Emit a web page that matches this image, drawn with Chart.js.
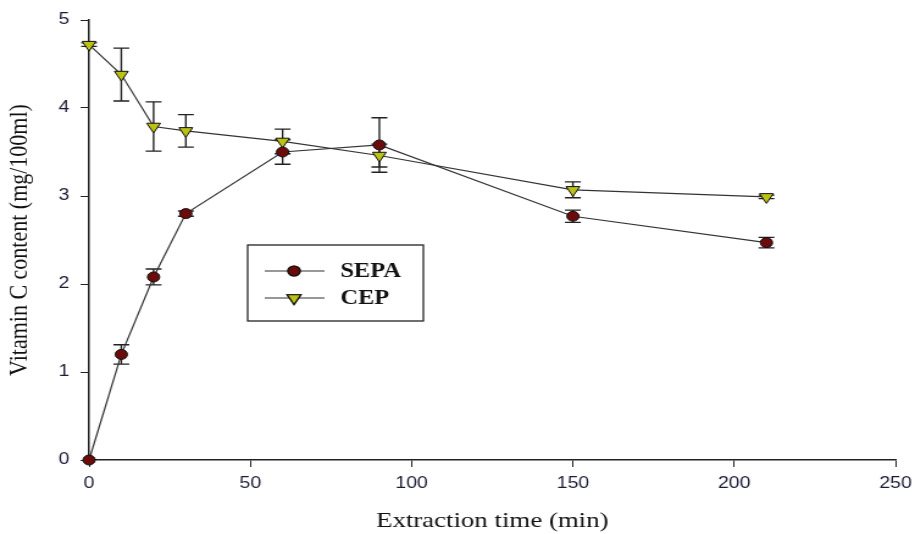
<!DOCTYPE html>
<html>
<head>
<meta charset="utf-8">
<script src="https://cdn.jsdelivr.net/npm/chart.js@4.4.1/dist/chart.umd.min.js"></script>
<style>
  html, body { margin: 0; padding: 0; background: #fff; }
  /* drawn a bit narrower then stretched, like the original figure */
  #vitC { display: block; width: 915px !important; height: 534px !important; }
</style>
</head>
<body>
<canvas id="vitC" width="750" height="534"></canvas>
<script>
const times = [0, 10, 20, 30, 60, 90, 150, 210];
const sepaVals = [0, 1.2, 2.08, 2.8, 3.5, 3.58, 2.77, 2.47];
const sepaErr = [0, 0.11, 0.09, 0.03, 0.14, 0.31, 0.07, 0.06];
const cepVals = [4.72, 4.38, 3.79, 3.74, 3.62, 3.46, 3.07, 2.99];
const cepErr = [0.02, 0.3, 0.28, 0.185, 0.14, 0.13, 0.09, 0.02];
const seriesNames = ["SEPA", "CEP"];

const sepaColor = "#6b0b0b";
const cepColor = "#bcc214";
const tickColor = "#1c1c36";

const sepaPoints = times.map((t, i) => ({ x: t, y: sepaVals[i] }));
const cepPoints = times.map((t, i) => ({ x: t, y: cepVals[i] }));

// error bars, drawn under the markers
const errorBars = {
  id: "errorBars",
  beforeDatasetsDraw(chart) {
    const ctx = chart.ctx;
    const xs = chart.scales.x, ys = chart.scales.y;
    const errs = [sepaErr, cepErr];
    ctx.save();
    ctx.strokeStyle = "#222";
    ctx.lineWidth = 1.4;
    chart.data.datasets.forEach((ds, d) => {
      ds.data.forEach((p, i) => {
        const e = errs[d][i];
        if (!e) return;
        const px = xs.getPixelForValue(p.x);
        const top = ys.getPixelForValue(p.y + e);
        const bot = ys.getPixelForValue(p.y - e);
        ctx.beginPath();
        ctx.moveTo(px, top); ctx.lineTo(px, bot);
        ctx.moveTo(px - 6.5, top); ctx.lineTo(px + 6.5, top);
        ctx.moveTo(px - 6.5, bot); ctx.lineTo(px + 6.5, bot);
        ctx.stroke();
      });
    });
    ctx.restore();
  }
};

// boxed legend inside the plot
const boxLegend = {
  id: "boxLegend",
  afterDraw(chart) {
    const ctx = chart.ctx;
    const bx = 203, by = 245, bw = 144, bh = 76;
    ctx.save();
    ctx.strokeStyle = "#222";
    ctx.lineWidth = 1.3;
    ctx.strokeRect(bx, by, bw, bh);
    const rows = [271, 298];
    chart.data.datasets.forEach((ds, i) => {
      const y = rows[i];
      ctx.strokeStyle = "#333";
      ctx.lineWidth = 1.2;
      ctx.beginPath();
      ctx.moveTo(217, y); ctx.lineTo(266, y);
      ctx.stroke();
      Chart.helpers.drawPoint(ctx, {
        pointStyle: ds.pointStyle,
        rotation: ds.pointRotation || 0,
        radius: ds.pointRadius,
        borderWidth: 1
      }, 241, y);
      ctx.fillStyle = ds.backgroundColor;
      ctx.strokeStyle = "#111";
      ctx.fill();
      ctx.stroke();
      ctx.fillStyle = "#111";
      ctx.font = "bold 20px 'Liberation Serif', 'Times New Roman', serif";
      ctx.textBaseline = "middle";
      ctx.fillText(seriesNames[i], 279, y + 1);
    });
    ctx.restore();
  }
};

const config = {
  type: "line",
  data: {
    datasets: [
      {
        label: seriesNames[0],
        data: sepaPoints,
        borderColor: "#333",
        borderWidth: 1.2,
        backgroundColor: sepaColor,
        pointBackgroundColor: sepaColor,
        pointBorderColor: "#111",
        pointBorderWidth: 1,
        pointStyle: "circle",
        pointRadius: 5,
        clip: false
      },
      {
        label: seriesNames[1],
        data: cepPoints,
        borderColor: "#333",
        borderWidth: 1.2,
        backgroundColor: cepColor,
        pointBackgroundColor: cepColor,
        pointBorderColor: "#111",
        pointBorderWidth: 1,
        pointStyle: "triangle",
        pointRotation: 180,
        pointRadius: 6.5,
        clip: false
      }
    ]
  },
  options: {
    responsive: false,
    animation: false,
    devicePixelRatio: 1,
    layout: { padding: { left: 3, top: 20, right: 16, bottom: 0 } },
    plugins: {
      legend: { display: false },
      tooltip: { enabled: false }
    },
    scales: {
      x: {
        type: "linear",
        min: 0,
        max: 250,
        afterFit(scale) {
          scale.height = 74;
          scale.paddingLeft = 0;
          scale.paddingRight = 0;
        },
        ticks: {
          stepSize: 50,
          color: tickColor,
          padding: 7,
          font: { family: "'Liberation Sans', Arial, sans-serif", size: 16 }
        },
        grid: { display: true, drawOnChartArea: false, drawTicks: true, tickLength: 7, color: "#222" },
        border: { display: true, color: "#222", width: 1.5 },
        title: {
          display: true,
          text: "Extraction time (min)",
          color: "#111",
          padding: 0,
          font: { family: "'Liberation Serif', 'Times New Roman', serif", size: 22 }
        }
      },
      y: {
        min: 0,
        max: 5,
        afterFit(scale) { scale.width = 70; },
        ticks: {
          stepSize: 1,
          color: tickColor,
          padding: 9,
          font: { family: "'Liberation Sans', Arial, sans-serif", size: 16 }
        },
        grid: { display: true, drawOnChartArea: false, drawTicks: true, tickLength: 7, color: "#222" },
        border: { display: true, color: "#222", width: 1.5 },
        title: {
          display: true,
          text: "Vitamin C content (mg/100ml)",
          color: "#111",
          padding: 0,
          font: { family: "'Liberation Serif', 'Times New Roman', serif", size: 22 }
        }
      }
    }
  },
  plugins: [errorBars, boxLegend]
};

const ctx = document.getElementById("vitC");
const vitChart = new Chart(ctx, config);
</script>
</body>
</html>
